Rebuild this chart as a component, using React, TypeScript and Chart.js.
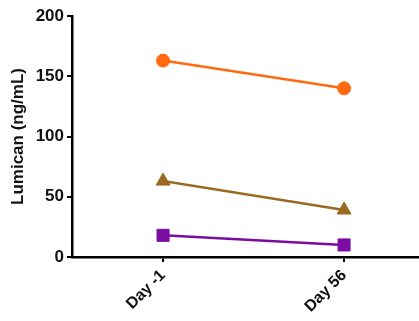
import React, { useEffect, useRef } from "react";
import { Chart, registerables } from "chart.js";

Chart.register(...registerables);

const categories = ["Day -1", "Day 56"];
const seriesOrange = [163, 140];
const seriesBrown = [63, 39];
const seriesPurple = [18, 10];
const yTicks = [0, 50, 100, 150, 200];

const FONT = "Arial, 'Liberation Sans', sans-serif";

export default function App() {
  const ref = useRef<HTMLCanvasElement | null>(null);
  useEffect(() => {
    document.body.style.margin = "0";
    const ctx = ref.current!.getContext("2d")!;
    const mk = (vals: number[], color: string, style: string, radius: number) => ({
      data: vals.map((v, i) => ({ x: i, y: v })),
      borderColor: color,
      backgroundColor: color,
      pointBackgroundColor: color,
      pointBorderColor: color,
      pointStyle: style,
      pointRadius: radius,
      borderWidth: 2.5,
      pointBorderWidth: 1,
    });
    const chart = new Chart(ctx, {
      type: "line",
      data: {
        datasets: [
          mk(seriesOrange, "#FF6A10", "circle", 6.5),
          mk(seriesBrown, "#9A6A22", "triangle", 8),
          mk(seriesPurple, "#7A0CA2", "rect", 8.5),
        ] as any,
      },
      options: {
        animation: false,
        responsive: false,
        layout: { autoPadding: false, padding: { top: 16, right: 0, left: 0, bottom: 0 } },
        plugins: { legend: { display: false }, tooltip: { enabled: false } },
        scales: {
          x: {
            type: "linear",
            min: -0.503,
            max: 1.414,
            afterBuildTicks: (s: any) => {
              s.ticks = categories.map((_, i) => ({ value: i }));
            },
            afterFit: (s: any) => {
              s.height = 64;
              s.paddingLeft = 0;
              s.paddingRight = 0;
            },
            ticks: {
              callback: (v: any) => categories[v] ?? "",
              minRotation: 45,
              maxRotation: 45,
              color: "#111",
              font: { family: FONT, size: 16, weight: "bold" },
              padding: 4,
            },
            grid: {
              display: true,
              drawOnChartArea: false,
              drawTicks: true,
              tickLength: 5,
              color: "#000",
              lineWidth: 2,
            },
            border: { display: true, color: "#000", width: 2.5 },
          },
          y: {
            min: 0,
            max: 200,
            afterBuildTicks: (s: any) => {
              s.ticks = yTicks.map((v) => ({ value: v }));
            },
            afterFit: (s: any) => {
              s.width = 72;
              s.paddingTop = 0;
              s.paddingBottom = 0;
            },
            ticks: {
              color: "#111",
              font: { family: FONT, size: 17, weight: "bold" },
              padding: 3,
            },
            grid: {
              display: true,
              drawOnChartArea: false,
              drawTicks: true,
              tickLength: 5,
              color: "#000",
              lineWidth: 2,
            },
            border: { display: true, color: "#000", width: 2.5 },
            title: {
              display: true,
              text: "Lumican (ng/mL)",
              color: "#111",
              font: { family: FONT, size: 17, weight: "bold" },
              padding: { top: 8, bottom: 0 },
            },
          },
        },
      } as any,
    });
    return () => chart.destroy();
  }, []);
  return (
    <div style={{ position: "fixed", left: 0, top: 0, width: 419, height: 321, background: "#fff" }}>
      <canvas ref={ref} width={419} height={321} />
    </div>
  );
}
